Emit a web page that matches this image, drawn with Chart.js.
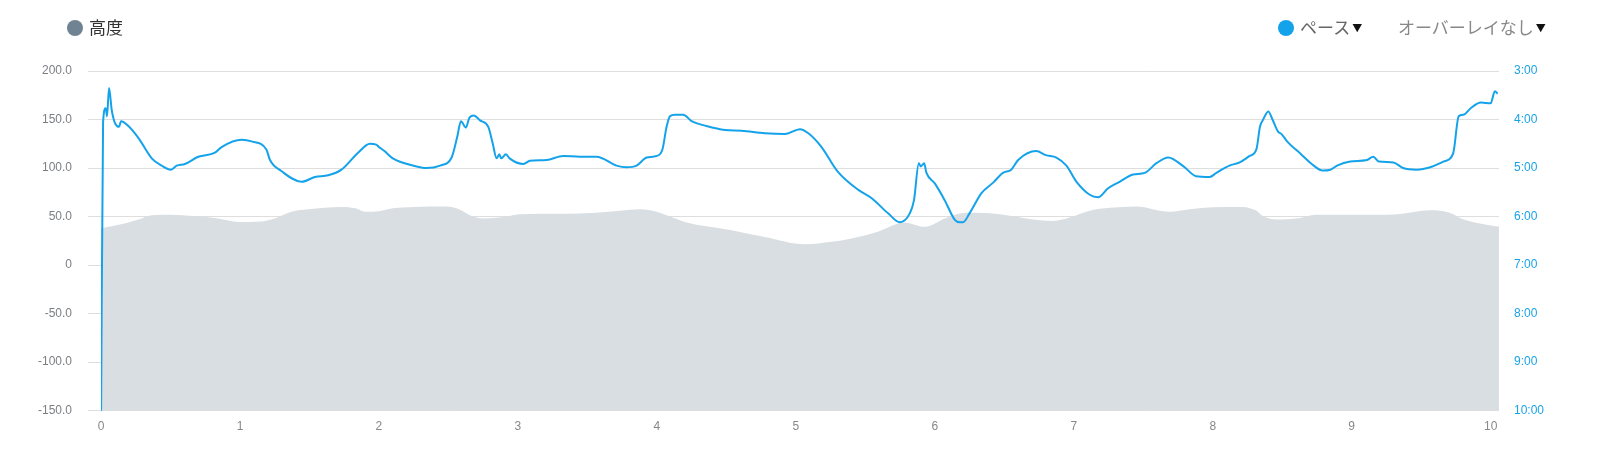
<!DOCTYPE html>
<html>
<head>
<meta charset="utf-8">
<script src="https://cdn.jsdelivr.net/npm/chart.js@4/dist/chart.umd.min.js"></script>
<style>
  body { margin: 0; background: #fff; font-family: "Noto Sans CJK JP", "Liberation Sans", sans-serif; }
  #wrap { position: relative; width: 1600px; height: 450px; }
  .leg { position: absolute; top: 15px; height: 24px; line-height: 24px; font-size: 17px; white-space: nowrap; }
  .dot { display: inline-block; width: 16px; height: 16px; border-radius: 50%; vertical-align: -2px; margin-right: 6px; }
  .tri { font-size: 10px; color: #111; margin-left: 2px; vertical-align: 2px; }
</style>
</head>
<body>
<div id="wrap">
  <canvas id="run-chart"></canvas>
  <div class="leg" style="left:67px;color:#333"><span class="dot" style="background:#6f8393"></span>高度</div>
  <div class="leg" style="left:1278px;color:#666"><span class="dot" style="background:#14a3ea"></span>ペース<span class="tri">▼</span></div>
  <div class="leg" style="left:1398px;color:#888">オーバーレイなし<span class="tri">▼</span></div>
</div>
<script>
// elevation (m) by distance (km)
const elevKm = [0, 0.17, 0.27, 0.365, 0.5, 0.676, 0.844, 0.99, 1.156, 1.25, 1.37, 1.49, 1.73, 1.83, 1.9, 2.0,
  2.1, 2.247, 2.487, 2.56, 2.655, 2.75, 2.894, 3.014, 3.326, 3.566, 3.734, 3.878, 3.998, 4.094, 4.2, 4.537,
  4.777, 5.065, 5.257, 5.4, 5.59, 5.736, 5.78, 5.93, 6.072, 6.144, 6.25, 6.468, 6.707, 6.85, 6.97, 7.115,
  7.259, 7.45, 7.69, 7.835, 8.0, 8.19, 8.31, 8.36, 8.457, 8.6, 8.745, 8.97, 9.19, 9.33, 9.565, 9.705,
  9.806, 9.95, 10.06];
const elevM = [38, 43, 47, 51.5, 52, 50.5, 48, 44.5, 45, 48, 55, 57.5, 60, 58.5, 55, 55.5,
  58.5, 60, 60.5, 58.5, 51.5, 48, 49.5, 52.5, 53, 54, 56, 57.5, 55, 50, 44.5, 36,
  29, 21.5, 24, 27.5, 34.5, 43, 44, 39.5, 48, 52, 54, 52.5, 47, 45.5, 49, 56,
  59, 60.5, 55, 57.5, 59.5, 60, 56.5, 50.5, 47, 48, 52, 52, 52, 52.5, 56.5, 54,
  47, 42, 39.5];

// pace (seconds per km) by distance (km)
const paceKm = [0, 0.015, 0.034, 0.043, 0.058, 0.077, 0.1, 0.13, 0.144, 0.197, 0.27, 0.365, 0.437, 0.504,
  0.545, 0.604, 0.7, 0.82, 0.868, 1.012, 1.084, 1.19, 1.216, 1.3, 1.444, 1.54, 1.635, 1.73, 1.85, 1.935,
  1.98, 2.0, 2.04, 2.1, 2.247, 2.343, 2.44, 2.523, 2.564, 2.59, 2.626, 2.65, 2.683, 2.727, 2.787, 2.818,
  2.847, 2.866, 2.88, 2.914, 2.94, 3.04, 3.086, 3.206, 3.326, 3.446, 3.566, 3.71, 3.78, 3.854, 3.926,
  3.998, 4.04, 4.07, 4.094, 4.13, 4.19, 4.25, 4.357, 4.49, 4.61, 4.777, 4.92, 5.03, 5.09, 5.185, 5.3,
  5.45, 5.544, 5.664, 5.748, 5.82, 5.85, 5.885, 5.9, 5.923, 5.94, 6.0, 6.072, 6.144, 6.18, 6.204, 6.25,
  6.336, 6.42, 6.49, 6.55, 6.6, 6.73, 6.8, 6.875, 6.947, 7.02, 7.115, 7.175, 7.247, 7.33, 7.427, 7.51,
  7.595, 7.68, 7.79, 7.88, 7.978, 8.026, 8.12, 8.194, 8.266, 8.314, 8.34, 8.36, 8.4, 8.43, 8.47, 8.495,
  8.535, 8.63, 8.727, 8.79, 8.847, 8.895, 8.99, 9.11, 9.155, 9.195, 9.3, 9.37, 9.47, 9.565, 9.66, 9.73,
  9.77, 9.806, 9.856, 9.93, 10.0, 10.03, 10.05];
const paceSec = [620, 243, 226, 236, 201, 228, 244, 249, 242, 248, 263, 288, 297, 302,
  297, 295, 286, 281, 274, 265, 267, 277, 290, 304, 317, 311, 309, 302, 281, 270,
  271, 274, 279, 288, 297, 300, 297, 287, 261, 242, 250, 238, 235, 241, 249, 269,
  288, 283, 288, 283, 288, 295, 291, 290, 285, 286, 286, 297, 299, 297, 287,
  285, 277, 249, 236, 234, 234, 242, 248, 253, 254, 257, 258, 252, 257, 274, 304,
  327, 337, 356, 367, 356, 340, 294, 298, 294, 306, 319, 340, 364, 367, 367, 356,
  331, 318, 306, 302, 290, 279, 284, 287, 297, 317, 333, 336, 325, 317, 308, 306,
  294, 287, 298, 310, 311, 306, 297, 293, 285, 277, 249, 241, 230, 240, 255, 258,
  267, 282, 297, 303, 302, 297, 292, 290, 286, 292, 293, 300, 302, 299, 292, 282,
  236, 234, 226, 219, 220, 205, 208];

const kmTicks = [0, 1, 2, 3, 4, 5, 6, 7, 8, 9, 10];
const elevTicks = [-150, -100, -50, 0, 50, 100, 150, 200];
const paceTicks = [180, 240, 300, 360, 420, 480, 540, 600];

const toPoints = (xs, ys) => xs.map((x, i) => ({ x: x, y: ys[i] }));
const fmtPace = (s) => Math.floor(s / 60) + ":" + String(Math.round(s % 60)).padStart(2, "0");

const ctx = document.getElementById("run-chart");

new Chart(ctx, {
  type: "line",
  data: {
    datasets: [
      {
        label: "ペース",
        data: toPoints(paceKm, paceSec),
        yAxisID: "pace",
        borderColor: "#14a3ea",
        borderWidth: 2,
        pointRadius: 0,
        fill: false,
        cubicInterpolationMode: "monotone",
      },
      {
        label: "高度",
        data: toPoints(elevKm, elevM),
        yAxisID: "elev",
        borderWidth: 0,
        borderColor: "rgba(0,0,0,0)",
        backgroundColor: "#d9dee2",
        pointRadius: 0,
        fill: "start",
        cubicInterpolationMode: "monotone",
      },
    ],
  },
  options: {
    responsive: true,
    maintainAspectRatio: false,
    animation: false,
    layout: { padding: { top: 71, left: 0, right: 0, bottom: 0 } },
    plugins: { legend: { display: false }, tooltip: { enabled: false } },
    scales: {
      x: {
        type: "linear",
        min: 0,
        max: 10.06,
        grid: { display: false, drawTicks: false },
        border: { display: false },
        afterBuildTicks: (s) => { s.ticks = kmTicks.map((v) => ({ value: v })); },
        afterFit: (s) => { s.height = 39.3; },
        ticks: { padding: 9, color: "#888", font: { size: 12, family: "Liberation Sans" }, maxRotation: 0, autoSkip: false },
      },
      elev: {
        position: "left",
        min: -150,
        max: 200,
        z: 1,
        afterBuildTicks: (s) => { s.ticks = elevTicks.map((v) => ({ value: v })); },
        afterFit: (s) => { s.width = 101; },
        grid: { color: "rgba(0,0,0,0.13)", tickLength: 13, drawTicks: true },
        border: { display: false },
        ticks: {
          padding: 16,
          color: "#7b7f84",
          font: { size: 12, family: "Liberation Sans" },
          callback: (v) => (v === 0 ? "0" : v.toFixed(1)),
        },
      },
      pace: {
        position: "right",
        reverse: true,
        min: 180,
        max: 600,
        afterBuildTicks: (s) => { s.ticks = paceTicks.map((v) => ({ value: v })); },
        afterFit: (s) => { s.width = 101; },
        grid: { display: false, drawTicks: false },
        border: { display: false },
        ticks: {
          padding: 15,
          color: "#1aa3e8",
          font: { size: 12, family: "Liberation Sans" },
          callback: (v) => fmtPace(v),
        },
      },
    },
  },
});
</script>
</body>
</html>
